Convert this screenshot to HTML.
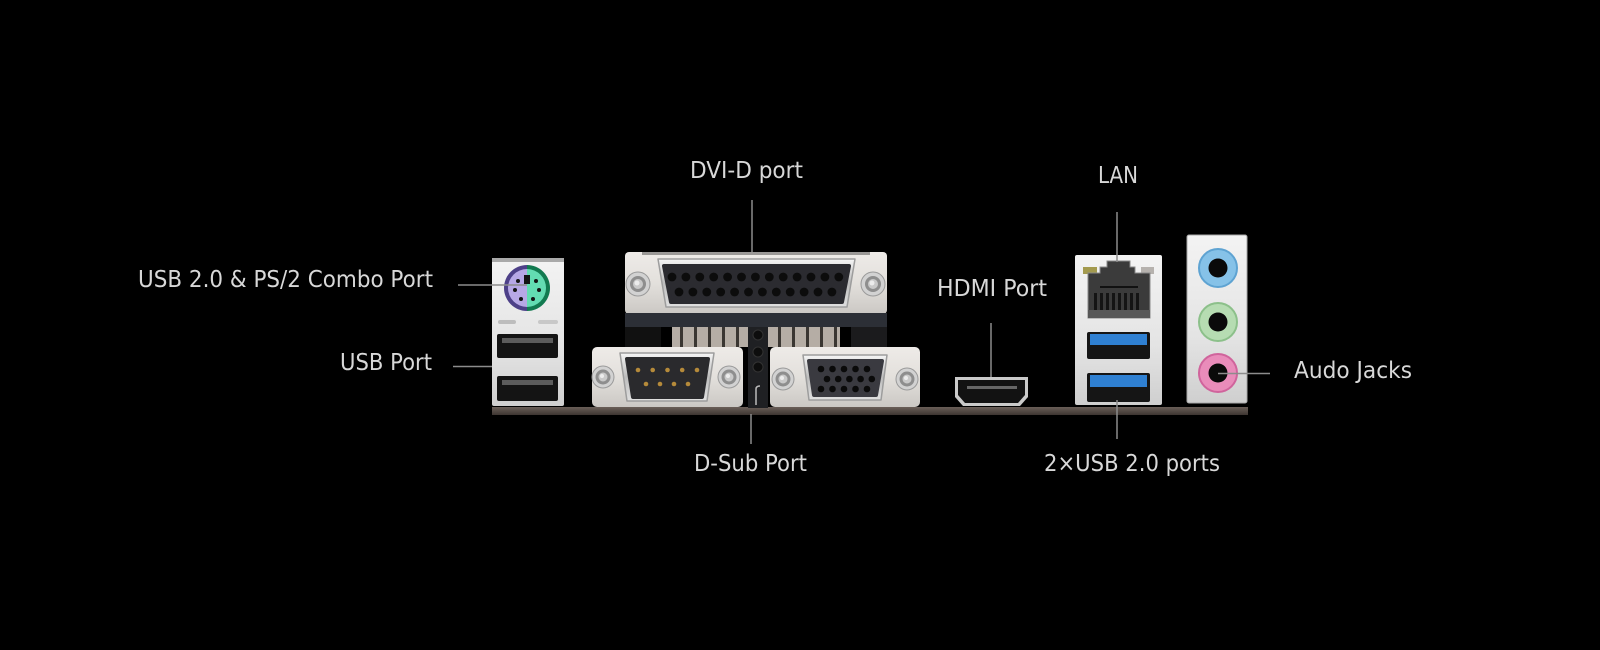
<!DOCTYPE html>
<html><head><meta charset="utf-8"><style>
html,body{margin:0;padding:0;background:#000;}
svg{display:block}
text{font-family:"DejaVu Sans","Liberation Sans",sans-serif;font-size:23px;fill:#d8d8d8;}
</style></head><body>
<svg width="1600" height="650" viewBox="0 0 1600 650" xmlns="http://www.w3.org/2000/svg">
<defs>
<linearGradient id="silver" x1="0" y1="0" x2="0" y2="1">
<stop offset="0" stop-color="#f3f3f3"/><stop offset="0.6" stop-color="#e4e4e4"/><stop offset="1" stop-color="#cfcfcf"/>
</linearGradient>
<linearGradient id="silverw" x1="0" y1="0" x2="0" y2="1">
<stop offset="0" stop-color="#eeebe8"/><stop offset="0.5" stop-color="#e3e0dc"/><stop offset="1" stop-color="#cbc8c4"/>
</linearGradient>
<linearGradient id="chrome" x1="0" y1="0" x2="0" y2="1">
<stop offset="0" stop-color="#f5f5f5"/><stop offset="0.5" stop-color="#bdbdbd"/><stop offset="1" stop-color="#e0e0e0"/>
</linearGradient>
<linearGradient id="pcb" x1="0" y1="0" x2="0" y2="1">
<stop offset="0" stop-color="#6a5f58"/><stop offset="1" stop-color="#3e3632"/>
</linearGradient>
<g id="screw">
<circle r="12" fill="#d2d2d2" stroke="#9a9a9a" stroke-width="1"/>
<circle r="8" fill="#8e8e8e"/>
<circle r="5" fill="#c9c9c9"/>
<circle r="2.5" cx="-1" cy="-1" fill="#ececec"/>
</g>
<g id="screws">
<circle r="11" fill="#d2d2d2" stroke="#9a9a9a" stroke-width="1"/>
<circle r="7.5" fill="#8e8e8e"/>
<circle r="4.5" fill="#c9c9c9"/>
<circle r="2" cx="-1" cy="-1" fill="#ececec"/>
</g>
</defs>
<rect width="1600" height="650" fill="#000"/>

<!-- PCB strip -->
<rect x="492" y="407" width="756" height="8" fill="url(#pcb)"/>

<!-- LEFT: PS/2 + USB bracket -->
<rect x="492" y="258" width="72" height="148" rx="2" fill="url(#silver)"/>
<rect x="492" y="258" width="72" height="4" fill="#a9a9a9"/>
<g transform="translate(527,288)">
<path d="M0,-23 A23,23 0 0 0 0,23 Z" fill="#4d4088"/>
<path d="M0,-23 A23,23 0 0 1 0,23 Z" fill="#127a50"/>
<path d="M0,-19 A19,19 0 0 0 0,19 Z" fill="#b7a8e6"/>
<path d="M0,-19 A19,19 0 0 1 0,19 Z" fill="#63dcb2"/>
<rect x="-3" y="-13" width="6" height="9" fill="#141414"/>
<circle cx="-9" cy="-7" r="2" fill="#141414"/>
<circle cx="9" cy="-7" r="2" fill="#141414"/>
<circle cx="-12" cy="2" r="2" fill="#141414"/>
<circle cx="12" cy="2" r="2" fill="#141414"/>
<circle cx="-6" cy="11" r="2" fill="#141414"/>
<circle cx="6" cy="11" r="2" fill="#141414"/>
</g>
<rect x="498" y="320" width="18" height="4" rx="2" fill="#bdbdbd"/>
<rect x="538" y="320" width="20" height="4" rx="2" fill="#c8c8c8"/>
<rect x="497" y="334" width="61" height="24" rx="2" fill="#141414"/>
<rect x="502" y="338" width="51" height="5" fill="#5c5c5c"/>
<rect x="497" y="376" width="61" height="25" rx="2" fill="#141414"/>
<rect x="502" y="380" width="51" height="5" fill="#5c5c5c"/>

<!-- PARALLEL (DVI-D label) -->
<rect x="625" y="252" width="262" height="62" rx="4" fill="url(#silverw)"/>
<rect x="642" y="252" width="228" height="3" fill="#000" opacity="0.35"/>
<path d="M658,259 L855,259 L847,307 L666,307 Z" fill="url(#chrome)" stroke="#9d9d9d" stroke-width="1.5" stroke-linejoin="round"/>
<path d="M664,266 L849,266 L842,302 L671,302 Z" fill="#2b2b30" stroke="#2b2b30" stroke-width="4" stroke-linejoin="round"/>
<g fill="#0c0c0c">
<circle cx="672" cy="277" r="4.4"/><circle cx="685.9" cy="277" r="4.4"/><circle cx="699.8" cy="277" r="4.4"/><circle cx="713.7" cy="277" r="4.4"/><circle cx="727.6" cy="277" r="4.4"/><circle cx="741.5" cy="277" r="4.4"/><circle cx="755.4" cy="277" r="4.4"/><circle cx="769.3" cy="277" r="4.4"/><circle cx="783.2" cy="277" r="4.4"/><circle cx="797.1" cy="277" r="4.4"/><circle cx="811" cy="277" r="4.4"/><circle cx="824.9" cy="277" r="4.4"/><circle cx="838.8" cy="277" r="4.4"/>
<circle cx="679" cy="292" r="4.4"/><circle cx="692.9" cy="292" r="4.4"/><circle cx="706.8" cy="292" r="4.4"/><circle cx="720.7" cy="292" r="4.4"/><circle cx="734.6" cy="292" r="4.4"/><circle cx="748.5" cy="292" r="4.4"/><circle cx="762.4" cy="292" r="4.4"/><circle cx="776.3" cy="292" r="4.4"/><circle cx="790.2" cy="292" r="4.4"/><circle cx="804.1" cy="292" r="4.4"/><circle cx="818" cy="292" r="4.4"/><circle cx="831.9" cy="292" r="4.4"/>
</g>
<use href="#screw" x="638" y="284"/>
<use href="#screw" x="873" y="284"/>
<rect x="625" y="313" width="262" height="14" fill="#2c2f36"/>
<rect x="625" y="327" width="36" height="20" fill="#111"/>
<rect x="851" y="327" width="36" height="20" fill="#1b1b1d"/>
<rect x="672" y="327" width="168" height="20" fill="#b5ada5"/>
<g fill="#3a3632">
<rect x="680" y="327" width="3" height="20"/><rect x="694" y="327" width="3" height="20"/><rect x="708" y="327" width="3" height="20"/><rect x="722" y="327" width="3" height="20"/><rect x="736" y="327" width="3" height="20"/><rect x="778" y="327" width="3" height="20"/><rect x="792" y="327" width="3" height="20"/><rect x="806" y="327" width="3" height="20"/><rect x="820" y="327" width="3" height="20"/><rect x="834" y="327" width="3" height="20"/>
</g>
<rect x="748" y="327" width="20" height="81" fill="#1f2023"/>
<circle cx="758" cy="335" r="5" fill="#0d0d0d" stroke="#333" stroke-width="1"/>
<circle cx="758" cy="352" r="5" fill="#0d0d0d" stroke="#333" stroke-width="1"/>
<circle cx="758" cy="367" r="5" fill="#0d0d0d" stroke="#333" stroke-width="1"/>
<path d="M756,405 L756,389 Q756,386 760,386" fill="none" stroke="#bbb" stroke-width="1.5"/>

<!-- SERIAL DB9 -->
<rect x="592" y="347" width="151" height="60" rx="5" fill="url(#silverw)"/>
<path d="M620,353 L714,353 L707,401 L627,401 Z" fill="url(#chrome)" stroke="#9d9d9d" stroke-width="1.5" stroke-linejoin="round"/>
<path d="M627,359 L708,359 L702,397 L633,397 Z" fill="#2a2a2d" stroke="#2a2a2d" stroke-width="4" stroke-linejoin="round"/>
<g fill="#b58a3a">
<circle cx="638" cy="370" r="2.3"/><circle cx="652.7" cy="370" r="2.3"/><circle cx="667.5" cy="370" r="2.3"/><circle cx="682.2" cy="370" r="2.3"/><circle cx="697" cy="370" r="2.3"/>
<circle cx="646" cy="384" r="2.3"/><circle cx="660" cy="384" r="2.3"/><circle cx="674" cy="384" r="2.3"/><circle cx="688" cy="384" r="2.3"/>
</g>
<use href="#screws" x="603" y="377"/>
<use href="#screws" x="729" y="377"/>

<!-- VGA -->
<rect x="770" y="347" width="150" height="60" rx="5" fill="url(#silverw)"/>
<path d="M803,355 L887,355 L881,400 L809,400 Z" fill="url(#chrome)" stroke="#9d9d9d" stroke-width="1.5" stroke-linejoin="round"/>
<path d="M809,361 L882,361 L876,395 L814,395 Z" fill="#3a3a40" stroke="#3a3a40" stroke-width="4" stroke-linejoin="round"/>
<g fill="#0a0a0a">
<circle cx="821" cy="369" r="3.3"/><circle cx="832.5" cy="369" r="3.3"/><circle cx="844" cy="369" r="3.3"/><circle cx="855.5" cy="369" r="3.3"/><circle cx="867" cy="369" r="3.3"/>
<circle cx="827" cy="379" r="3.3"/><circle cx="838.2" cy="379" r="3.3"/><circle cx="849.4" cy="379" r="3.3"/><circle cx="860.6" cy="379" r="3.3"/><circle cx="871.8" cy="379" r="3.3"/>
<circle cx="821" cy="389" r="3.3"/><circle cx="832.5" cy="389" r="3.3"/><circle cx="844" cy="389" r="3.3"/><circle cx="855.5" cy="389" r="3.3"/><circle cx="867" cy="389" r="3.3"/>
</g>
<use href="#screws" x="783" y="379"/>
<use href="#screws" x="907" y="379"/>

<!-- HDMI -->
<path d="M955,377 L1028,377 L1028,397 L1020,406 L963,406 L955,397 Z" fill="#cacaca"/>
<path d="M958,380 L1025,380 L1025,395 L1018,403 L965,403 L958,395 Z" fill="#121212"/>
<rect x="967" y="386" width="50" height="3" fill="#666"/>

<!-- LAN + USB3 block -->
<rect x="1075" y="255" width="87" height="150" rx="2" fill="url(#silver)"/>
<rect x="1083" y="267" width="14" height="7" fill="#a39a4e"/>
<rect x="1141" y="267" width="13" height="7" fill="#b6b2ae"/>
<path d="M1107,261 L1130,261 L1130,267 L1135,267 L1135,273 L1150,273 L1150,318 L1088,318 L1088,273 L1100,273 L1100,267 L1107,267 Z" fill="#3b3b3b" stroke="#8a8a8a" stroke-width="1"/>
<rect x="1100" y="286" width="38" height="2" fill="#111"/>
<g fill="#141414">
<rect x="1094" y="293" width="3" height="17"/><rect x="1100" y="293" width="3" height="17"/><rect x="1106" y="293" width="3" height="17"/><rect x="1112" y="293" width="3" height="17"/><rect x="1118" y="293" width="3" height="17"/><rect x="1124" y="293" width="3" height="17"/><rect x="1130" y="293" width="3" height="17"/><rect x="1136" y="293" width="3" height="17"/>
</g>
<rect x="1088" y="310" width="62" height="8" fill="#575757"/>
<rect x="1087" y="332" width="63" height="27" rx="2" fill="#151515"/>
<rect x="1090" y="334" width="57" height="11" fill="#2f80d2"/>
<rect x="1087" y="373" width="63" height="29" rx="2" fill="#151515"/>
<rect x="1090" y="375" width="57" height="12" fill="#2f80d2"/>

<!-- AUDIO -->
<rect x="1187" y="235" width="60" height="168" rx="2" fill="url(#silver)" stroke="#a8a8a8" stroke-width="1"/>
<circle cx="1218" cy="268" r="19" fill="#86c2e8" stroke="#5ea3d2" stroke-width="2"/>
<circle cx="1218" cy="268" r="9.5" fill="#0a0a0a"/>
<circle cx="1218" cy="322" r="19" fill="#b6dcb2" stroke="#8cc08a" stroke-width="2"/>
<circle cx="1218" cy="322" r="9.5" fill="#0a0a0a"/>
<circle cx="1218" cy="373" r="19" fill="#e98cba" stroke="#d0649c" stroke-width="2"/>
<circle cx="1218" cy="373" r="9.5" fill="#0a0a0a"/>

<!-- connector lines -->
<g stroke="#8c8c8c" stroke-width="1.5" fill="none">
<line x1="458" y1="285" x2="527" y2="285"/>
<line x1="453" y1="366.5" x2="492" y2="366.5"/>
<line x1="752" y1="200" x2="752" y2="252"/>
<line x1="1117" y1="212" x2="1117" y2="262"/>
<line x1="991" y1="323" x2="991" y2="377"/>
<line x1="1218" y1="373.5" x2="1270" y2="373.5"/>
<line x1="751" y1="414" x2="751" y2="444"/>
<line x1="1117" y1="400" x2="1117" y2="439"/>
</g>

<!-- labels -->
<text x="138" y="287" textLength="295" lengthAdjust="spacingAndGlyphs">USB 2.0 &amp; PS/2 Combo Port</text>
<text x="340" y="370" textLength="92" lengthAdjust="spacingAndGlyphs">USB Port</text>
<text x="690" y="178" textLength="113" lengthAdjust="spacingAndGlyphs">DVI-D port</text>
<text x="1098" y="183" textLength="40" lengthAdjust="spacingAndGlyphs">LAN</text>
<text x="937" y="296" textLength="110" lengthAdjust="spacingAndGlyphs">HDMI Port</text>
<text x="1294" y="378" textLength="118" lengthAdjust="spacingAndGlyphs">Audo Jacks</text>
<text x="694" y="471" textLength="113" lengthAdjust="spacingAndGlyphs">D-Sub Port</text>
<text x="1044" y="471" textLength="176" lengthAdjust="spacingAndGlyphs">2×USB 2.0 ports</text>
</svg>
</body></html>
